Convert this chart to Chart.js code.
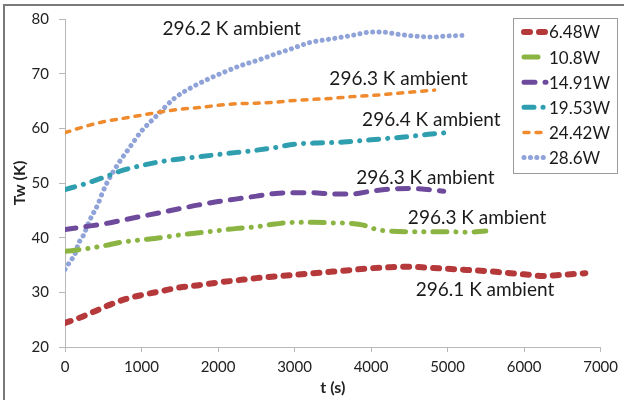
<!DOCTYPE html>
<html>
<head>
<meta charset="utf-8">
<script src="https://cdn.jsdelivr.net/npm/chart.js@4.4.1/dist/chart.umd.min.js"></script>
<style>
  html, body { margin: 0; padding: 0; background: #fff; }
  #wrap { width: 624px; height: 400px; position: relative; }
</style>
</head>
<body>
<div id="wrap"><canvas id="c" width="624" height="400"></canvas></div>
<script>
// ---- data ----
const seriesLabels = ['6.48W', '10.8W', '14.91W', '19.53W', '24.42W', '28.6W'];

const t648 = [0,200,400,600,800,1000,1250,1500,1750,2000,2250,2500,2750,3000,3250,3500,3750,4000,4250,4500,4750,5000,5250,5500,5750,6000,6250,6500,6800];
const tw648 = [24.4,25.4,26.6,27.8,28.8,29.5,30.2,30.9,31.3,31.8,32.2,32.6,32.9,33.2,33.5,33.8,34.1,34.4,34.6,34.7,34.5,34.3,34.1,33.9,33.6,33.3,33.0,33.2,33.5];

const t108 = [0,250,500,750,1000,1250,1500,1750,2000,2250,2500,2750,3000,3250,3500,3750,3900,4000,4100,4250,4500,4750,5000,5250,5500];
const tw108 = [37.5,37.9,38.5,39.2,39.6,40.0,40.5,40.9,41.3,41.7,42.0,42.5,42.8,42.8,42.7,42.6,42.3,41.8,41.4,41.2,41.1,41.1,41.1,41.0,41.2];

const t1491 = [0,250,500,750,1000,1250,1500,1750,2000,2250,2500,2750,3000,3250,3500,3750,4000,4250,4500,4750,4950];
const tw1491 = [41.5,42.0,42.5,43.2,43.9,44.6,45.3,46.0,46.6,47.1,47.6,48.1,48.2,48.2,48.0,48.0,48.5,48.9,49.0,48.8,48.5];

const t1953 = [0,250,500,750,1000,1250,1500,1750,2000,2250,2500,2750,3000,3250,3500,3750,4000,4250,4500,4750,5050];
const tw1953 = [48.8,49.8,51.0,52.3,53.2,53.9,54.4,54.8,55.2,55.6,56.0,56.5,57.1,57.3,57.4,57.6,57.9,58.2,58.5,58.9,59.3];

const t2442 = [0,250,500,750,1000,1250,1500,1750,2000,2250,2500,2750,3000,3250,3500,3750,4000,4250,4500,4830];
const tw2442 = [59.2,60.3,61.2,61.8,62.4,63.0,63.5,63.8,64.2,64.5,64.6,64.8,65.1,65.3,65.5,65.8,66.0,66.3,66.6,67.0];

const t286 = [0,60,130,175,240,320,430,480,540,690,840,1000,1190,1430,1670,1900,2100,2300,2530,2750,2970,3200,3500,3750,4000,4150,4350,4550,4800,5000,5220];
const tw286 = [34.2,35.5,37.0,38.9,40.4,43.1,46.1,47.9,49.8,53.4,56.4,59.5,62.2,65.5,67.6,69.2,70.4,71.5,72.5,73.6,74.6,75.7,76.4,77.0,77.6,77.6,77.2,76.9,76.7,76.9,77.0];

const xTicks = [0,1000,2000,3000,4000,5000,6000,7000];
const yTicks = [20,30,40,50,60,70,80];

const annotationTexts = ['296.2 K ambient','296.3 K ambient','296.4 K ambient','296.3 K ambient','296.3 K ambient','296.1 K ambient'];
const annotationT  = [1273, 3455, 3883, 3805, 4481, 4584];
const annotationTw = [78.2, 69.1, 61.5, 50.9, 43.6, 30.4];

// ---- build ----
const pts = (xs, ys) => xs.map((x, i) => ({ x: x, y: ys[i] }));
const styles = [
  { color: '#b5393b', width: 6, dash: [6, 9] },
  { color: '#8cb443', width: 5, dash: [14, 9, 0.1, 9, 0.1, 9] },
  { color: '#6e4a9c', width: 5, dash: [11, 10] },
  { color: '#2f9fb0', width: 5, dash: [10, 9, 0.1, 9] },
  { color: '#ef8a2e', width: 3.5, dash: [5, 7] },
  { color: '#8fa3d8', width: 5, dash: [0.1, 6.3] }
];
const seriesData = [pts(t648, tw648), pts(t108, tw108), pts(t1491, tw1491), pts(t1953, tw1953), pts(t2442, tw2442), pts(t286, tw286)];

const datasets = seriesData.map((d, i) => ({
  label: seriesLabels[i],
  data: d,
  borderColor: styles[i].color,
  backgroundColor: styles[i].color,
  borderWidth: styles[i].width,
  borderDash: styles[i].dash,
  borderCapStyle: 'round',
  borderJoinStyle: 'round',
  pointRadius: 0,
  cubicInterpolationMode: 'monotone',
  fill: false
}));

const FONT = 'Lato, "Open Sans", sans-serif';

const framePlugin = {
  id: 'frame',
  beforeDraw(chart) {
    const ctx = chart.ctx;
    ctx.save();
    ctx.fillStyle = '#fff';
    ctx.fillRect(0, 0, chart.width, chart.height);
    ctx.strokeStyle = '#7a7a7a';
    ctx.lineWidth = 2;
    ctx.beginPath();
    ctx.moveTo(4, 400);
    ctx.lineTo(4, 5);
    ctx.lineTo(624, 5);
    ctx.stroke();
    ctx.restore();
  }
};

const annotPlugin = {
  id: 'annot',
  afterDatasetsDraw(chart) {
    const ctx = chart.ctx;
    const xs = chart.scales.x, ys = chart.scales.y;
    ctx.save();
    ctx.font = '19px ' + FONT;
    ctx.fillStyle = '#1a1a1a';
    ctx.textAlign = 'left';
    ctx.textBaseline = 'middle';
    annotationTexts.forEach((txt, i) => {
      ctx.fillText(txt, xs.getPixelForValue(annotationT[i]), ys.getPixelForValue(annotationTw[i]));
    });
    ctx.restore();
  }
};

const legendPlugin = {
  id: 'boxLegend',
  afterDraw(chart) {
    const ctx = chart.ctx;
    ctx.save();
    const bx = 513, by = 18, bw = 104, bh = 155;
    ctx.fillStyle = '#fff';
    ctx.fillRect(bx, by, bw, bh);
    ctx.strokeStyle = '#9a9a9a';
    ctx.lineWidth = 1;
    ctx.strokeRect(bx + 0.5, by + 0.5, bw, bh);
    chart.data.datasets.forEach((ds, i) => {
      const y = 32 + i * 25.1;
      ctx.save();
      ctx.strokeStyle = ds.borderColor;
      ctx.lineWidth = ds.borderWidth;
      ctx.lineCap = 'round';
      ctx.setLineDash(ds.borderDash);
      ctx.beginPath();
      ctx.moveTo(524, y);
      ctx.lineTo(546, y);
      ctx.stroke();
      ctx.restore();
      ctx.font = '17px ' + FONT;
      ctx.fillStyle = '#1a1a1a';
      ctx.textAlign = 'left';
      ctx.textBaseline = 'middle';
      ctx.fillText(ds.label, 549, y + 1);
    });
    ctx.restore();
  }
};

new Chart(document.getElementById('c'), {
  type: 'line',
  data: { datasets: datasets },
  options: {
    responsive: false,
    animation: false,
    layout: { padding: { top: 17, right: 20, left: 0, bottom: 0 } },
    plugins: { legend: { display: false }, tooltip: { enabled: false } },
    scales: {
      x: {
        type: 'linear',
        min: 0, max: 7000,
        afterBuildTicks(scale) { scale.ticks = xTicks.map(v => ({ value: v })); },
        afterFit(scale) { scale.height = 53; },
        ticks: { color: '#222', font: { family: FONT, size: 15 }, padding: 6, callback: v => String(v) },
        grid: { display: true, drawOnChartArea: false, drawTicks: true, tickLength: 5, color: '#b8b8b8' },
        border: { display: true, color: '#b8b8b8' },
        title: { display: true, text: 't (s)', color: '#222', font: { family: FONT, size: 16, weight: 'bold' }, padding: { top: 0, bottom: 3 } }
      },
      y: {
        min: 20, max: 80,
        afterBuildTicks(scale) { scale.ticks = yTicks.map(v => ({ value: v })); },
        afterFit(scale) { scale.width = 65; },
        ticks: { color: '#222', font: { family: FONT, size: 15 }, padding: 10, callback: v => String(v) },
        grid: { display: true, drawOnChartArea: false, drawTicks: true, tickLength: 6, color: '#b8b8b8' },
        border: { display: true, color: '#b8b8b8' },
        title: { display: true, text: 'Tw (K)', color: '#222', font: { family: FONT, size: 16, weight: 'bold' }, padding: { top: 10, bottom: 0 } }
      }
    }
  },
  plugins: [framePlugin, annotPlugin, legendPlugin]
});
</script>
</body>
</html>
